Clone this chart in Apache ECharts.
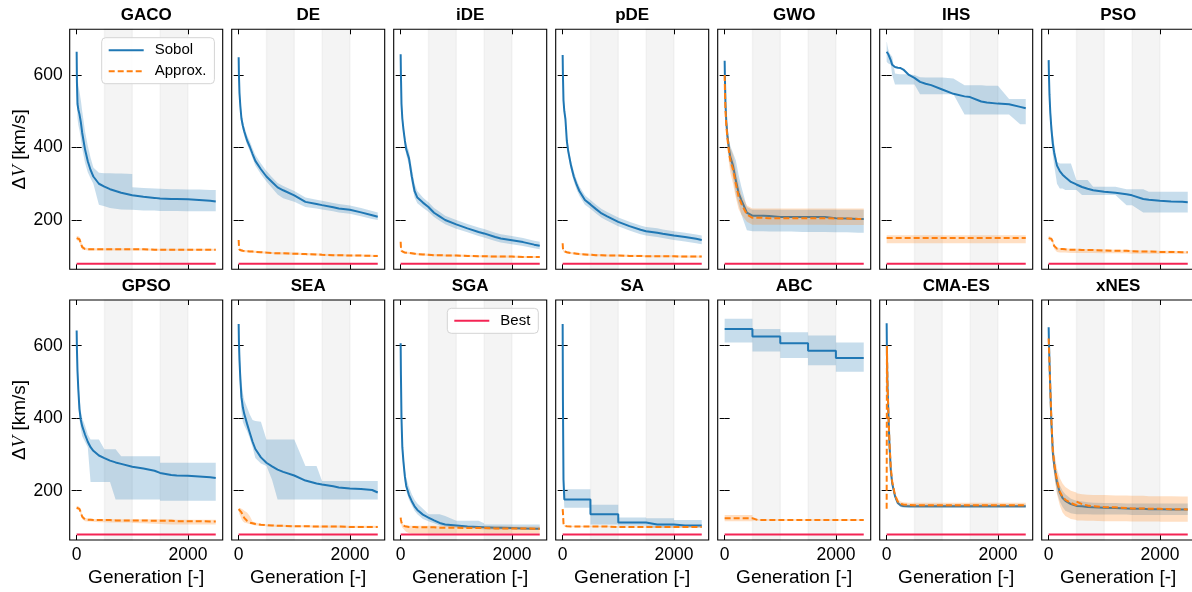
<!DOCTYPE html>
<html>
<head>
<meta charset="utf-8">
<script src="https://cdn.jsdelivr.net/npm/echarts@6/dist/echarts.min.js"></script>
<style>
html,body{margin:0;padding:0;background:#fff;}
#chart{width:1192px;height:592px;}
</style>
</head>
<body>
<div id="chart"></div>
<script>
// ---------------- DATA ----------------
const GEN = [0,5,15,30,50,75,100,150,200,250,300,400,499,500,600,700,800,999,1000,1200,1400,1499,1500,1700,1800,1999,2000,2200,2400,2500];
const TITLES = ['GACO','DE','iDE','pDE','GWO','IHS','PSO','GPSO','SEA','SGA','SA','ABC','CMA-ES','xNES'];
const X_TICKS = [0, 2000];
const Y_TICKS = [200, 400, 600];
const SPANS = [[500, 1000], [1500, 2000]];
const BEST_GEN = [0, 2500];
const BEST = [79, 79];

// GACO
const GACO_S  = [664,580,520,505,492,470,440,395,362,338,320,300,292,292,285,280,275,268,268,264,261,259,259,258,258,257,257,255,253,251];
const GACO_SH = [668,645,600,570,555,530,500,445,405,372,345,330,329,329,329,328,328,327,290,288,287,286,286,285,285,284,284,284,283,283];
const GACO_SL = [660,530,480,462,448,425,398,358,332,315,300,242,238,238,233,231,229,228,228,226,226,225,225,225,225,224,224,224,224,224];
const GACO_A  = [150,150,150,149,147,136,125,120,119,119,119,119,119,119,119,119,119,119,119,119,118,118,118,118,118,118,118,118,118,118];
const GACO_AH = [155,156,156,155,154,146,131,124,123,123,122,122,122,122,122,122,122,122,122,122,121,121,121,121,121,121,121,121,121,121];
const GACO_AL = [145,144,143,142,140,127,118,117,116,116,116,116,116,116,116,116,116,116,116,116,115,115,115,115,115,115,115,115,115,115];
// DE
const DE_S  = [649,600,550,515,480,460,445,420,402,382,363,340,320,320,305,290,282,268,268,250,244,241,241,235,232,228,228,221,213,209];
const DE_SH = [652,615,565,530,495,473,458,434,417,397,379,356,335,335,318,302,294,280,280,262,256,253,253,247,244,240,240,233,225,221];
const DE_SL = [646,585,535,500,466,447,432,408,390,370,350,326,306,306,288,270,260,250,250,236,232,229,229,224,221,217,217,210,203,200];
const DE_A  = [145,130,118,116,115,115,114,114,113,113,112,111,110,110,109,108,108,107,107,106,105,104,104,103,103,102,102,102,101,101];
const DE_AH = [148,134,121,119,118,118,117,117,116,116,115,114,113,113,112,111,111,110,110,109,108,107,107,106,106,105,105,105,104,104];
const DE_AL = [142,126,115,113,112,112,111,111,110,110,109,108,107,107,106,105,105,104,104,103,102,101,101,100,100,99,99,99,98,98];
// iDE
const IDE_S  = [657,600,520,480,450,420,395,370,320,280,262,248,236,236,220,210,200,188,188,177,167,163,163,153,149,144,144,139,132,129];
const IDE_SH = [660,615,535,495,465,435,410,390,345,300,280,262,249,249,233,223,212,200,200,189,179,175,175,165,161,156,156,150,143,140];
const IDE_SL = [654,585,505,466,436,406,380,352,300,262,246,234,223,223,208,198,188,176,176,166,156,152,152,142,138,133,133,128,122,119];
const IDE_A  = [140,125,115,112,111,110,110,109,108,107,106,105,104,104,103,103,102,102,102,101,100,100,100,99,99,99,99,98,98,98];
const IDE_AH = [143,129,118,115,114,113,113,112,111,110,109,108,107,107,106,106,105,105,105,104,103,103,103,102,102,102,102,101,101,101];
const IDE_AL = [137,121,112,109,108,107,107,106,105,104,103,102,101,101,100,100,99,99,99,98,97,97,97,96,96,96,96,95,95,95];
// pDE
const PDE_S  = [655,600,530,500,478,418,390,350,320,298,280,255,243,243,230,218,210,195,195,183,173,169,169,165,162,157,157,153,148,145];
const PDE_SH = [658,614,544,514,492,432,404,364,334,312,293,268,255,255,242,230,222,207,207,195,185,181,181,177,174,169,169,165,160,157];
const PDE_SL = [652,586,516,486,464,404,376,336,306,284,267,242,231,231,218,206,198,183,183,171,161,157,157,153,150,145,145,141,136,133];
const PDE_A  = [136,122,115,113,112,111,110,109,108,107,106,105,104,104,103,103,102,102,102,101,101,100,100,100,100,100,100,99,99,99];
const PDE_AH = [139,126,118,116,115,114,113,112,111,110,109,108,107,107,106,106,105,105,105,104,104,103,103,103,103,103,103,102,102,102];
const PDE_AL = [133,118,112,110,109,108,107,106,105,104,103,102,101,101,100,100,99,99,99,98,98,97,97,97,97,97,97,96,96,96];
// GWO
const GWO_S  = [639,590,520,470,432,400,375,350,310,275,255,220,212,212,212,212,211,208,208,208,208,208,208,208,208,205,205,204,203,203];
const GWO_SH = [645,610,540,490,455,425,405,385,365,325,292,236,228,228,228,228,228,228,228,228,228,228,228,228,228,228,228,228,228,228];
const GWO_SL = [630,560,490,440,410,372,350,318,270,243,215,172,169,169,169,169,168,168,168,168,167,167,167,167,167,166,166,166,165,165];
const GWO_A  = [600,560,500,460,425,392,366,340,300,265,245,215,206,206,206,206,205,205,205,205,205,205,205,205,205,204,204,204,203,203];
const GWO_AH = [610,580,530,490,456,422,400,380,340,300,270,240,232,232,232,232,232,232,232,232,232,232,232,232,232,232,232,232,232,232];
const GWO_AL = [590,540,470,430,395,360,332,300,262,230,215,195,187,187,187,187,187,187,187,187,187,187,187,187,187,186,186,186,186,186];
// IHS
const IHS_S  = [664,663,660,657,652,640,628,622,620,619,615,600,592,592,581,576,572,560,560,548,541,539,539,527,524,521,521,519,512,508];
const IHS_SH = [692,690,680,670,660,655,650,604,603,602,602,602,600,600,594,593,593,593,593,590,572,572,572,572,570,570,570,534,534,534];
const IHS_SL = [637,636,634,632,630,628,600,574,574,574,574,574,574,574,547,547,547,547,547,547,491,491,491,491,491,491,491,491,464,464];
const IHS_A  = [150,150,150,150,150,150,150,150,150,150,150,150,150,150,150,150,150,150,150,150,150,150,150,150,150,150,150,150,150,150];
const IHS_AH = [158,158,158,158,158,158,158,158,158,158,158,158,158,158,158,158,158,158,158,158,158,158,158,158,158,158,158,158,158,158];
const IHS_AL = [136,136,136,136,136,136,136,136,136,136,136,136,136,136,136,136,136,136,136,136,136,136,136,136,136,136,136,136,136,136];
// PSO
const PSO_S  = [641,600,545,495,450,410,385,350,335,325,318,305,298,298,291,286,282,278,278,275,271,268,268,258,256,253,253,251,250,249];
const PSO_SH = [645,620,570,520,480,440,410,360,356,356,356,356,310,310,310,310,292,292,292,292,285,285,285,285,278,278,278,278,278,278];
const PSO_SL = [635,580,520,470,420,380,350,300,287,287,283,283,283,283,269,269,269,269,269,269,241,241,241,221,221,221,221,221,221,221];
const PSO_A  = [150,150,150,149,148,140,128,121,120,120,119,118,118,118,117,117,117,116,116,115,115,114,114,113,113,112,112,112,111,111];
const PSO_AH = [155,155,155,154,153,146,133,124,123,123,122,121,121,121,120,120,120,119,119,118,118,117,117,116,116,115,115,115,114,114];
const PSO_AL = [143,143,143,143,142,133,120,112,110,110,110,109,109,109,109,109,109,108,108,108,108,107,107,107,107,107,107,107,107,107];
// GPSO
const GPSO_S  = [642,590,530,479,425,395,378,355,335,320,310,297,290,290,283,278,274,266,266,261,255,249,249,243,242,241,241,239,237,235];
const GPSO_SH = [646,610,560,510,460,420,400,380,355,341,341,341,314,314,314,314,295,295,295,295,295,295,277,277,277,277,277,277,277,277];
const GPSO_SL = [635,560,500,450,400,370,350,335,320,224,224,224,224,224,224,176,176,176,176,176,176,176,172,172,172,172,172,172,172,172];
const GPSO_A  = [153,153,153,152,150,140,128,121,120,120,119,119,119,119,119,118,118,118,118,118,117,117,117,117,116,116,116,116,115,115];
const GPSO_AH = [158,158,158,157,155,146,133,125,123,123,122,122,122,122,122,121,121,121,121,121,121,121,121,121,120,120,120,120,120,120];
const GPSO_AL = [148,148,148,147,145,134,122,116,115,115,114,113,113,113,112,112,112,112,111,110,109,108,108,107,107,107,107,107,107,107];
// SEA
const SEA_S  = [660,610,560,510,458,430,412,385,360,335,315,292,277,277,267,258,252,242,242,228,220,217,217,212,209,206,206,205,202,195];
const SEA_SH = [665,640,600,560,500,470,450,430,410,395,392,390,341,341,341,341,341,341,341,268,268,227,227,227,227,227,227,227,227,227];
const SEA_SL = [655,580,520,470,420,390,380,365,345,320,290,275,268,268,230,176,176,176,176,176,176,176,176,176,176,176,176,176,176,176];
const SEA_A  = [149,148,146,144,140,133,125,117,112,110,108,106,105,104,104,103,103,102,102,102,101,101,101,101,101,100,100,100,100,100];
const SEA_AH = [152,152,152,152,150,148,145,140,130,115,112,109,108,107,107,106,106,105,105,105,104,104,104,104,104,103,103,103,103,103];
const SEA_AL = [145,140,135,130,122,116,112,110,108,106,104,103,102,101,101,100,100,99,99,99,98,98,98,98,98,97,97,97,97,97];
// SGA
const SGA_S  = [607,520,400,320,280,240,213,188,171,157,147,134,126,126,118,111,107,104,104,101,100,99,99,98,98,97,97,96,95,95];
const SGA_SH = [610,540,425,345,300,260,235,210,190,175,165,150,136,135,135,135,130,117,117,117,117,110,107,107,107,107,107,107,107,107];
const SGA_SL = [604,500,380,300,262,225,200,175,160,145,135,122,116,116,110,104,101,98,98,96,94,93,93,92,92,92,92,92,92,92];
const SGA_A  = [126,120,112,106,103,102,101,100,100,100,99,99,99,99,99,98,98,98,98,97,97,97,97,96,96,96,96,96,95,95];
const SGA_AH = [129,124,116,110,107,105,104,103,103,103,103,103,103,103,103,103,103,103,102,102,102,102,102,102,102,101,101,101,101,101];
const SGA_AL = [120,112,104,98,95,90,86,83,82,82,82,82,82,82,82,82,82,82,82,82,82,82,82,82,82,82,82,82,82,82];
// SA
const SA_S  = [660,450,230,176,176,176,176,176,176,176,176,176,176,135,135,135,135,135,112,112,112,112,107,107,107,107,104,104,104,104];
const SA_SH = [662,500,260,204,204,204,204,204,204,204,204,204,204,161,161,161,161,161,126,126,126,126,124,124,124,124,119,119,119,119];
const SA_SL = [655,400,200,153,153,153,153,153,153,153,153,153,153,107,107,107,107,107,103,103,103,103,98,98,98,98,98,98,98,98];
const SA_A  = [149,140,110,103,102,102,102,101,101,101,101,101,101,101,101,101,101,100,100,100,100,100,100,100,100,100,100,100,100,100];
const SA_AH = [151,142,112,105,104,104,104,103,103,103,103,103,103,103,103,103,103,102,102,102,102,102,102,102,102,102,102,102,102,102];
const SA_AL = [147,138,108,101,100,100,100,99,99,99,99,99,99,99,99,99,99,98,98,98,98,98,98,98,98,98,98,98,98,98];
// ABC
const ABC_S  = [646,646,646,646,646,646,646,646,646,646,646,646,646,625,625,625,625,625,607,607,607,607,586,586,586,586,566,566,566,566];
const ABC_SH = [674,674,674,674,674,674,674,674,674,674,674,674,674,646,646,646,646,646,637,637,637,637,628,628,628,628,609,609,609,609];
const ABC_SL = [609,609,609,609,609,609,609,609,609,609,609,609,609,584,584,584,584,584,566,566,566,566,546,546,546,546,528,528,528,528];
const ABC_A  = [124,124,124,124,124,124,124,124,124,124,124,124,124,119,119,119,119,119,119,119,119,119,119,119,119,119,119,119,119,119];
const ABC_AH = [133,133,133,133,133,133,133,133,133,133,133,133,133,121,121,121,121,121,121,121,121,121,121,121,121,121,121,121,121,121];
const ABC_AL = [116,116,116,116,116,116,116,116,116,116,116,116,116,117,117,117,117,117,117,117,117,117,117,117,117,117,117,117,117,117];
// CMA-ES
const CMA_S  = [662,580,490,419,330,255,220,185,166,160,158,157,157,157,157,157,157,157,157,157,157,157,157,157,157,157,157,157,157,157];
const CMA_SH = [665,585,496,425,336,262,227,191,171,165,163,162,162,162,162,162,162,162,162,162,162,162,162,162,162,162,162,162,162,162];
const CMA_SL = [659,575,484,413,324,248,213,179,161,155,153,152,152,152,152,152,152,152,152,152,152,152,152,152,152,152,152,152,152,152];
const CMA_A  = [150,600,500,425,335,262,225,188,170,164,162,161,160,160,160,160,160,160,160,160,160,160,160,160,160,160,160,160,160,160];
const CMA_AH = [155,605,506,431,341,269,232,195,177,170,168,167,167,167,167,167,167,167,167,167,167,167,167,167,167,167,167,167,167,167];
const CMA_AL = [145,595,494,419,329,255,218,181,163,158,156,155,154,154,154,154,154,154,154,154,154,154,154,154,154,154,154,154,154,154];
// xNES
const XNES_S  = [651,610,555,480,385,305,270,222,195,180,172,163,158,158,157,155,154,153,153,152,151,150,150,150,149,149,149,148,148,148];
const XNES_SH = [655,620,570,500,410,330,300,245,215,200,190,178,172,172,170,168,167,166,166,166,165,165,165,165,165,165,165,165,165,165];
const XNES_SL = [645,595,535,455,360,280,245,195,170,155,145,138,135,135,135,135,134,134,134,134,134,133,133,133,133,133,133,133,133,133];
const XNES_A  = [620,600,550,480,390,310,275,228,198,183,175,166,160,170,163,159,157,155,158,154,152,151,151,151,150,150,151,149,149,148];
const XNES_AH = [630,615,570,505,420,340,310,260,235,220,210,200,195,193,190,189,188,188,188,187,187,186,186,186,185,185,185,185,184,184];
const XNES_AL = [610,585,530,455,360,280,240,190,160,140,130,122,119,118,118,117,117,116,116,116,116,115,115,115,115,115,114,114,114,114];

const PANELS = [
  [GACO_S, GACO_SL, GACO_SH, GACO_A, GACO_AL, GACO_AH],
  [DE_S, DE_SL, DE_SH, DE_A, DE_AL, DE_AH],
  [IDE_S, IDE_SL, IDE_SH, IDE_A, IDE_AL, IDE_AH],
  [PDE_S, PDE_SL, PDE_SH, PDE_A, PDE_AL, PDE_AH],
  [GWO_S, GWO_SL, GWO_SH, GWO_A, GWO_AL, GWO_AH],
  [IHS_S, IHS_SL, IHS_SH, IHS_A, IHS_AL, IHS_AH],
  [PSO_S, PSO_SL, PSO_SH, PSO_A, PSO_AL, PSO_AH],
  [GPSO_S, GPSO_SL, GPSO_SH, GPSO_A, GPSO_AL, GPSO_AH],
  [SEA_S, SEA_SL, SEA_SH, SEA_A, SEA_AL, SEA_AH],
  [SGA_S, SGA_SL, SGA_SH, SGA_A, SGA_AL, SGA_AH],
  [SA_S, SA_SL, SA_SH, SA_A, SA_AL, SA_AH],
  [ABC_S, ABC_SL, ABC_SH, ABC_A, ABC_AL, ABC_AH],
  [CMA_S, CMA_SL, CMA_SH, CMA_A, CMA_AL, CMA_AH],
  [XNES_S, XNES_SL, XNES_SH, XNES_A, XNES_AL, XNES_AH]
];

// ---------------- STYLE / LAYOUT ----------------
const FONT = 'Liberation Sans';
const C_SOBOL = '#1f77b4', C_APPROX = '#ff7f0e', C_BEST = '#f42454';
const GRID_L0 = 69.7, GRID_STEP = 162, GRID_W = 153, GRID_H = 240;
const ROW_TOP = [29.3, 300];

const grids = [], xAxes = [], yAxes = [], series = [], titles = [];
const xTop = [], yRight = [];

function bandSeries(i, lo, hi, color, z) {
  return {
    type: 'custom', name: 'band', xAxisIndex: i, yAxisIndex: i, z: z, silent: true,
    data: GEN.map((g, k) => [g, lo[k], hi[k]]),
    encode: {x: 0, y: [1, 2]},
    renderItem: function (params, api) {
      if (params.dataIndex !== 0) return null;
      const pts = [];
      for (let k = 0; k < GEN.length; k++) pts.push(api.coord([GEN[k], hi[k]]));
      for (let k = GEN.length - 1; k >= 0; k--) pts.push(api.coord([GEN[k], lo[k]]));
      return {type: 'polygon', shape: {points: pts}, style: {fill: color}};
    }
  };
}

const plain = v => String(v);

for (let i = 0; i < 14; i++) {
  const r = Math.floor(i / 7), c = i % 7;
  const left = GRID_L0 + GRID_STEP * c, top = ROW_TOP[r];
  grids.push({left: left, top: top, width: GRID_W, height: GRID_H, show: true,
    borderColor: '#000', borderWidth: 1.1, backgroundColor: 'rgba(0,0,0,0)',
    containLabel: false, outerBoundsMode: 'none'});
  titles.push({text: TITLES[i], left: left + GRID_W / 2, top: top - 22, textAlign: 'center', padding: 0,
    textStyle: {fontFamily: FONT, fontWeight: 'bold', fontSize: 17, color: '#000'}});

  const tickX = {show: true, inside: true, length: 5, customValues: X_TICKS, lineStyle: {color: '#000', width: 1}};
  xAxes.push({type: 'value', gridIndex: i, min: -125, max: 2625, position: 'bottom',
    axisLine: {show: false}, splitLine: {show: false}, axisTick: tickX,
    axisLabel: {show: r === 1, customValues: X_TICKS, formatter: plain, margin: 6, fontSize: 17.5, color: '#000', fontFamily: FONT},
    name: r === 1 ? 'Generation [-]' : '', nameLocation: 'middle', nameGap: 28,
    nameTextStyle: {fontSize: 19, fontFamily: FONT, color: '#000'}});
  xTop.push({type: 'value', gridIndex: i, min: -125, max: 2625, position: 'top',
    axisLine: {show: false}, splitLine: {show: false}, axisTick: tickX, axisLabel: {show: false}});

  const tickY = {show: true, inside: true, length: 5, customValues: Y_TICKS, lineStyle: {color: '#000', width: 1}};
  yAxes.push({type: 'value', gridIndex: i, min: 64, max: 726, position: 'left',
    axisLine: {show: false}, splitLine: {show: false}, axisTick: tickY,
    axisLabel: {show: c === 0, customValues: Y_TICKS, formatter: plain, margin: 7, fontSize: 17.5, color: '#000', fontFamily: FONT},
    name: c === 0 ? '{a|Δ}{b|V}{a| [km/s]}' : '', nameLocation: 'middle', nameRotate: 90, nameGap: 40,
    nameTextStyle: {fontSize: 19, fontFamily: FONT, color: '#000',
      rich: {a: {fontSize: 19, fontFamily: FONT, color: '#000'},
             b: {fontSize: 19, fontFamily: 'Liberation Serif', fontStyle: 'italic', color: '#000'}}}});
  yRight.push({type: 'value', gridIndex: i, min: 64, max: 726, position: 'right',
    axisLine: {show: false}, splitLine: {show: false}, axisTick: tickY, axisLabel: {show: false}});

  const P = PANELS[i];
  series.push({type: 'line', name: 'span', xAxisIndex: i, yAxisIndex: i, z: 1, silent: true,
    data: [], symbol: 'none',
    markArea: {silent: true, itemStyle: {color: 'rgba(0,0,0,0.045)', borderColor: 'rgba(0,0,0,0.035)', borderWidth: 1.5},
      data: SPANS.map(s => [{xAxis: s[0]}, {xAxis: s[1]}])}});
  series.push(bandSeries(i, P[1], P[2], 'rgba(31,119,180,0.25)', 2));
  series.push({type: 'line', name: 'Sobol', xAxisIndex: i, yAxisIndex: i, z: 3, silent: true,
    data: GEN.map((g, k) => [g, P[0][k]]), symbol: 'none', showSymbol: false,
    lineStyle: {color: C_SOBOL, width: 2}, itemStyle: {color: C_SOBOL}});
  series.push(bandSeries(i, P[4], P[5], 'rgba(255,127,14,0.25)', 4));
  series.push({type: 'line', name: 'Approx.', xAxisIndex: i, yAxisIndex: i, z: 5, silent: true,
    data: GEN.map((g, k) => [g, P[3][k]]), symbol: 'none', showSymbol: false,
    lineStyle: {color: C_APPROX, width: 2, type: [6, 3]}, itemStyle: {color: C_APPROX}});
  series.push({type: 'line', name: 'Best', xAxisIndex: i, yAxisIndex: i, z: 6, silent: true,
    data: BEST_GEN.map((g, k) => [g, BEST[k]]), symbol: 'none', showSymbol: false,
    lineStyle: {color: C_BEST, width: 2}, itemStyle: {color: C_BEST}});
}

const legendCommon = {orient: 'vertical', itemWidth: 35, itemHeight: 14, itemGap: 6,
  backgroundColor: 'rgba(255,255,255,0.85)', borderColor: '#d4d4d4', borderWidth: 1, borderRadius: 4,
  selectedMode: false, itemStyle: {opacity: 0, borderWidth: 0},
  textStyle: {fontSize: 15, fontFamily: FONT, color: '#000', padding: [0, 0, 0, 6]}};

const option = {
  animation: false,
  backgroundColor: '#fff',
  textStyle: {fontFamily: FONT},
  title: titles,
  grid: grids,
  xAxis: xAxes.concat(xTop),
  yAxis: yAxes.concat(yRight),
  legend: [
    Object.assign({}, legendCommon, {data: ['Sobol', 'Approx.'], left: 101.7, top: 37.7, padding: [5, 8, 5, 6]}),
    Object.assign({}, legendCommon, {data: ['Best'], left: 447.3, top: 308.3, padding: [5, 8, 5, 6]})
  ],
  series: series
};

const chart = echarts.init(document.getElementById('chart'), null, {renderer: 'canvas'});
chart.setOption(option);
</script>
</body>
</html>
